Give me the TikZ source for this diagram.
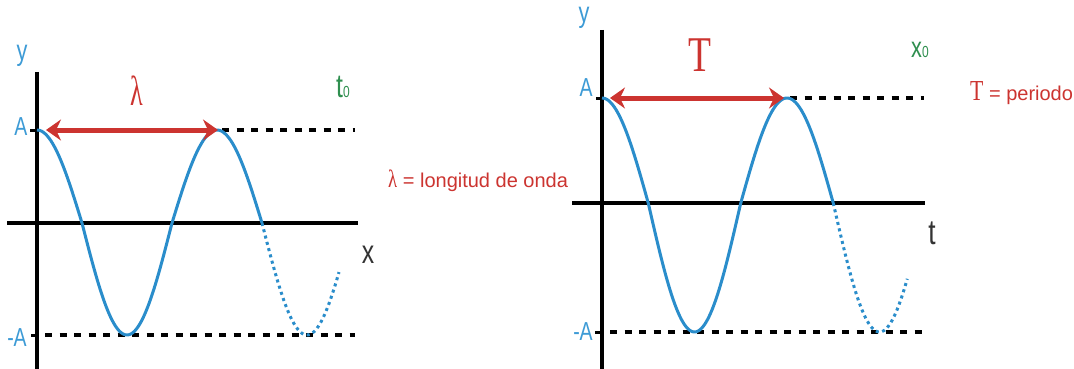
\documentclass[tikz,border=0pt]{standalone}
\usepackage{fontspec}
\setmainfont{Liberation Sans}
\newfontfamily\labf[FakeStretch=0.75]{Liberation Sans}
\newfontfamily\serf[FakeStretch=0.75]{Liberation Serif}
\newfontfamily\lamf[FakeStretch=0.62]{Liberation Serif}
\usetikzlibrary{arrows.meta}
\definecolor{wblue}{HTML}{2A8DCB}
\definecolor{lblue}{HTML}{3D9BD6}
\definecolor{wred}{HTML}{CC3430}
\definecolor{wgreen}{HTML}{2F8F4F}
\definecolor{wgray}{HTML}{333333}
\tikzset{
  axis/.style={line width=3.5pt,black},
  wave/.style={line width=3pt,wblue},
  wavedot/.style={line width=3pt,wblue,dash pattern=on 3pt off 3.5pt},
  level/.style={line width=4.5pt,black,dash pattern=on 7pt off 7.5pt},
  tickm/.style={line width=3pt,black},
  span/.style={line width=5pt,wred,{Stealth[length=15pt,width=21pt,inset=5pt]}-{Stealth[length=15pt,width=21pt,inset=5pt]}},
  axlab/.style={lblue,font=\labf\fontsize{26}{26}\selectfont,inner sep=0pt},
  varlab/.style={wgray,font=\labf\fontsize{33}{33}\selectfont,inner sep=0pt},
  fixlab/.style={wgreen,font=\labf\fontsize{33}{33}\selectfont,inner sep=0pt},
  legend/.style={wred,font=\fontsize{20}{20}\selectfont,inner sep=0pt,anchor=west}
}
\newcommand{\subz}{{\fontsize{16}{16}\selectfont 0}}
\begin{document}
\begin{tikzpicture}[x=1pt,y=-1pt]
\useasboundingbox (0,0) rectangle (1074,369);
\fill[white] (0,0) rectangle (1074,369);

% ---------- left panel ----------
\coordinate (ly1) at (37,72);
\coordinate (ly2) at (37,369);
\coordinate (lx1) at (7,223);
\coordinate (lx2) at (358,223);
\coordinate (lAt) at (30,130);
\coordinate (lAa) at (37,130);
\coordinate (lmAt) at (31,335);
\coordinate (lmAa) at (37,335);
\coordinate (ltop1) at (222,130);
\coordinate (ltop2) at (355,130);
\coordinate (lbot1) at (45,335);
\coordinate (lbot2) at (355,335);
\coordinate (larr1) at (46,130);
\coordinate (larr2) at (218,130);

\draw[level] (ltop1) -- (ltop2);
\draw[level] (lbot1) -- (lbot2);
\draw[axis] (ly1) -- (ly2);
\draw[axis] (lx1) -- (lx2);
\draw[tickm] (lAt) -- (lAa);
\draw[tickm] (lmAt) -- (lmAa);
\draw[wave] plot[domain=0:450,samples=150,variable=\u]
  ({37+\u/2},{223-(102.5*cos(\u)-9.5*abs(cos(\u)))});
\draw[wavedot] plot[domain=450:604,samples=60,variable=\u]
  ({37+\u/2},{223-(102.5*cos(\u)-9.5*abs(cos(\u)))});
\draw[span] (larr1) -- (larr2);

\node[axlab,font=\labf\fontsize{29}{29}\selectfont] (ly) at (22,56) {y};
\node[axlab] (lA) at (21,127) {A};
\node[axlab] (lmA) at (17,338) {-A};
\node[varlab] (lx) at (368,255) {x};
\node[fixlab] (lt0) at (343,87) {t\subz};
\node[wred,font=\lamf\fontsize{42}{42}\selectfont,inner sep=0pt] (lam) at (137,91) {λ};
\node[legend] (leg1) at (388,181) {{\serf\fontsize{25}{25}\selectfont λ} = longitud de onda};

% ---------- right panel ----------
\coordinate (ry1) at (602,30);
\coordinate (ry2) at (602,369);
\coordinate (rx1) at (572,203);
\coordinate (rx2) at (925,203);
\coordinate (rAt) at (596,98);
\coordinate (rAa) at (602,98);
\coordinate (rmAt) at (595,332);
\coordinate (rmAa) at (602,332);
\coordinate (rtop1) at (790,98);
\coordinate (rtop2) at (924,98);
\coordinate (rbot1) at (610,332);
\coordinate (rbot2) at (924,332);
\coordinate (rarr1) at (610,98);
\coordinate (rarr2) at (784,98);

\draw[level] (rtop1) -- (rtop2);
\draw[level] (rbot1) -- (rbot2);
\draw[axis] (ry1) -- (ry2);
\draw[axis] (rx1) -- (rx2);
\draw[tickm] (rAt) -- (rAa);
\draw[tickm] (rmAt) -- (rmAa);
\draw[wave] plot[domain=0:450,samples=150,variable=\u]
  ({602+\u/360*185},{203-(117*cos(\u)-12*abs(cos(\u)))});
\draw[wavedot] plot[domain=450:594,samples=60,variable=\u]
  ({602+\u/360*185},{203-(117*cos(\u)-12*abs(cos(\u)))});
\draw[span] (rarr1) -- (rarr2);

\node[axlab,font=\labf\fontsize{29}{29}\selectfont] (ry) at (584,18) {y};
\node[axlab] (rA) at (586,88) {A};
\node[axlab] (rmA) at (583,332) {-A};
\node[varlab,font=\labf\fontsize{35}{35}\selectfont] (rt) at (932,233) {t};
\node[fixlab,font=\labf\fontsize{29}{29}\selectfont] (rx0) at (920,50) {x\subz};
\node[wred,font=\serf\fontsize{50}{50}\selectfont,inner sep=0pt] (bigT) at (700,55) {T};
\node[legend] (leg2) at (970,93) {{\serf\fontsize{29}{29}\selectfont T} = periodo};
\end{tikzpicture}
\end{document}
